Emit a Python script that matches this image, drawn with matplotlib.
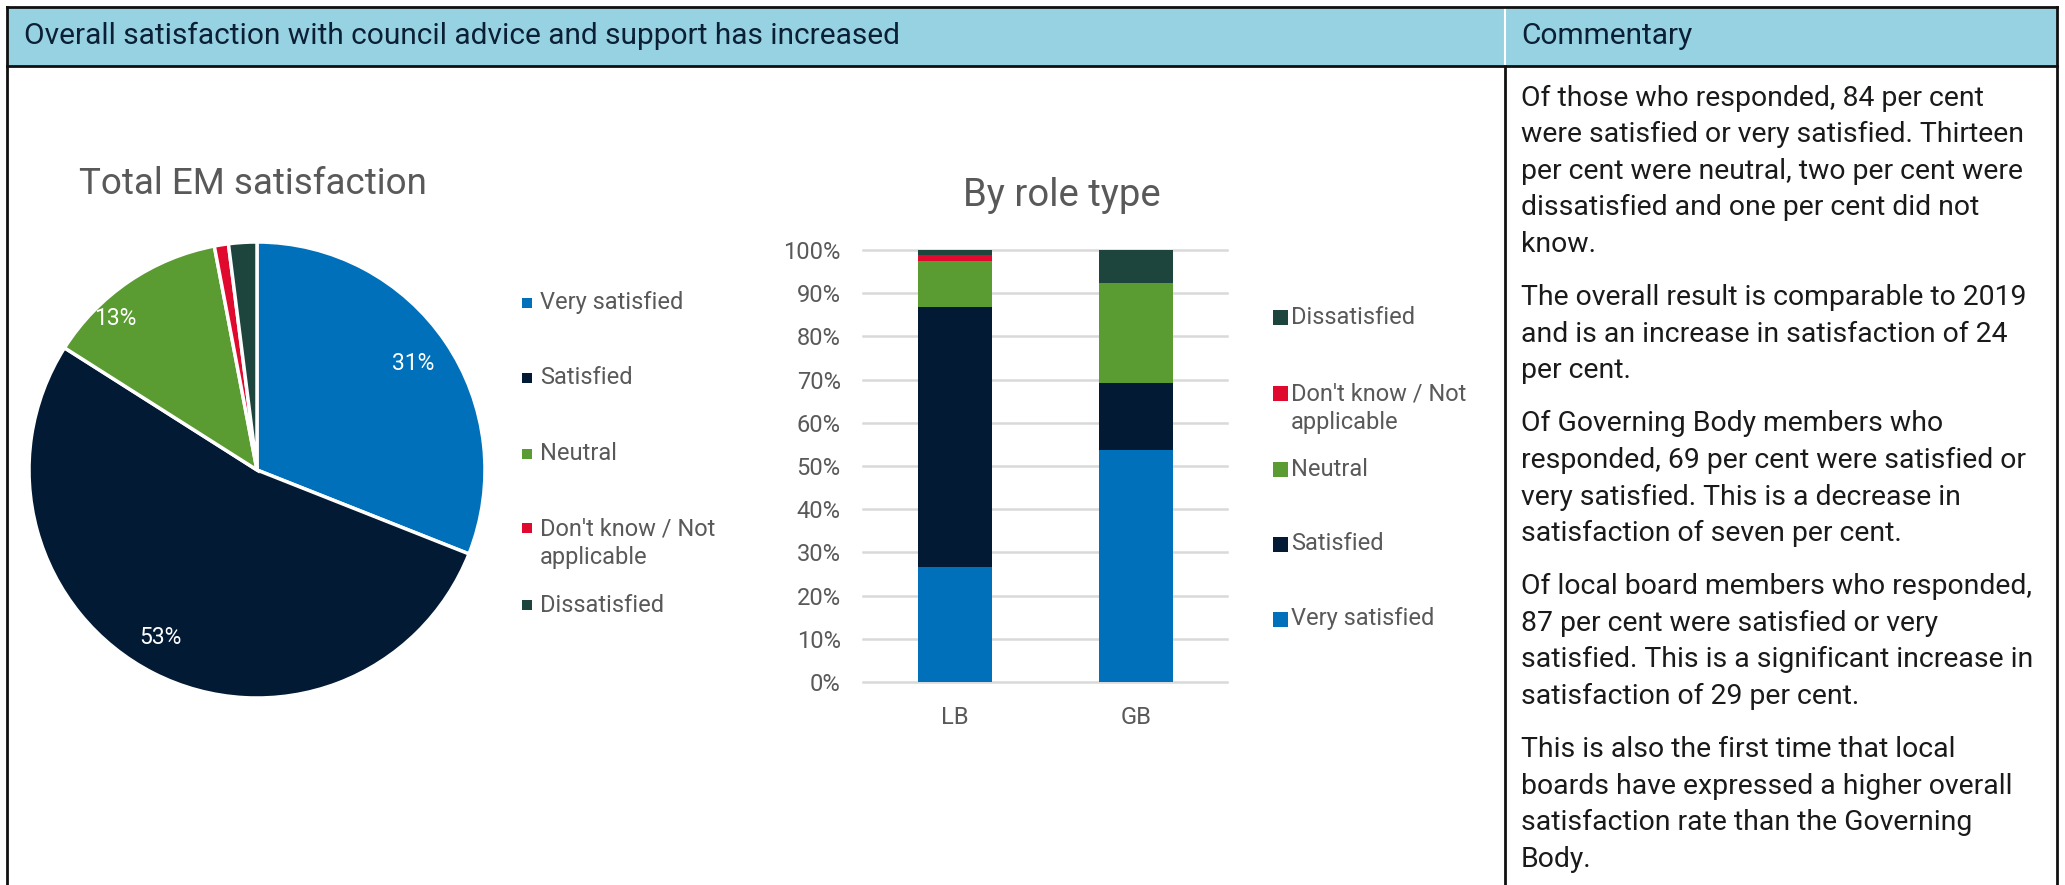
import matplotlib
matplotlib.use('Agg')
import matplotlib.pyplot as plt
from matplotlib.patches import Rectangle
import numpy as np

plt.rcParams['font.family'] = ['Roboto', 'DejaVu Sans']

# --- data -------------------------------------------------------------------
header_title = "Overall satisfaction with council advice and support has increased"
commentary_title = "Commentary"

pie_title = "Total EM satisfaction"
pie_labels = ["Very satisfied", "Satisfied", "Neutral",
              "Don't know / Not\napplicable", "Dissatisfied"]
pie_values = [31, 53, 13, 1, 2]

bar_title = "By role type"
roles = ["LB", "GB"]
stack_labels = ["Very satisfied", "Satisfied", "Neutral",
                "Don't know / Not\napplicable", "Dissatisfied"]
lb_values = [26.7, 60.0, 10.7, 1.4, 1.2]
gb_values = [53.8, 15.4, 23.1, 0.0, 7.7]
y_ticks = [0, 10, 20, 30, 40, 50, 60, 70, 80, 90, 100]

commentary = [
    ["Of those who responded, 84 per cent",
     "were satisfied or very satisfied. Thirteen",
     "per cent were neutral, two per cent were",
     "dissatisfied and one per cent did not",
     "know."],
    ["The overall result is comparable to 2019",
     "and is an increase in satisfaction of 24",
     "per cent."],
    ["Of Governing Body members who",
     "responded, 69 per cent were satisfied or",
     "very satisfied. This is a decrease in",
     "satisfaction of seven per cent."],
    ["Of local board members who responded,",
     "87 per cent were satisfied or very",
     "satisfied. This is a significant increase in",
     "satisfaction of 29 per cent."],
    ["This is also the first time that local",
     "boards have expressed a higher overall",
     "satisfaction rate than the Governing",
     "Body."],
]

# --- style ------------------------------------------------------------------
colors = ["#0070BA", "#021A33", "#5B9C32", "#E00A2E", "#1E453D"]
grey_text = "#595959"
header_blue = "#97D2E3"

W, H = 2065, 885
fig = plt.figure(figsize=(W / 100, H / 100), dpi=100)
fig.patch.set_facecolor("white")


def box(x, y, w, h):
    """pixel box (top-left origin) -> figure fraction rect"""
    return [x / W, 1 - (y + h) / H, w / W, h / H]


# overlay in pixel coords for the table frame and free text
ov = fig.add_axes([0, 0, 1, 1])
ov.set_xlim(0, W)
ov.set_ylim(H, 0)
ov.axis("off")

left, right, top, head_bot, divider = 7, 2057, 7, 66, 1505
ov.add_patch(Rectangle((left, top), right - left, head_bot - top,
                       facecolor=header_blue, edgecolor="none", zorder=1))
ov.plot([divider, divider], [top, head_bot], color="white", lw=1.5, zorder=2)
ov.plot([left, right], [top, top], color="#111111", lw=2, zorder=3)
ov.plot([left, right], [head_bot, head_bot], color="#111111", lw=2, zorder=3)
ov.plot([left, left], [top, H], color="#111111", lw=2, zorder=3)
ov.plot([right, right], [top, H], color="#111111", lw=2, zorder=3)
ov.plot([divider, divider], [head_bot, H], color="#111111", lw=2, zorder=3)

ov.text(24, 36, header_title, fontsize=21.5, color="#0B1F35", va="center")
ov.text(1521, 36, commentary_title, fontsize=21.5, color="#0B1F35", va="center")

# commentary paragraphs
line_step, para_gap = 36.6, 16.5
y = 98
for para in commentary:
    for line in para:
        ov.text(1521, y, line, fontsize=20.4, color="#1A1A1A", va="center")
        y += line_step
    y += para_gap

# --- pie ---------------------------------------------------------------------
ov.text(253, 184, pie_title, fontsize=26.5, color=grey_text, ha="center",
        va="center")

cx, cy, r = 257, 470, 228
ax_pie = fig.add_axes(box(cx - r, cy - r, 2 * r, 2 * r))
wedges, _ = ax_pie.pie(pie_values, colors=colors, startangle=90, counterclock=False,
                       radius=1, wedgeprops=dict(edgecolor="white", linewidth=2.5))
ax_pie.set_xlim(-1, 1)
ax_pie.set_ylim(-1, 1)
ax_pie.axis("off")

label_pos = {0: (0.83, 0), 1: (0.85, -3), 2: (0.91, 9)}
for i, (wdg, val) in enumerate(zip(wedges, pie_values)):
    if i not in label_pos:
        continue
    dist, shift = label_pos[i]
    ang = np.deg2rad((wdg.theta1 + wdg.theta2) / 2 + shift)
    ax_pie.text(dist * np.cos(ang), dist * np.sin(ang), f"{val}%",
                color="white", fontsize=16.5, ha="center", va="center")

# pie legend
pie_leg_y = [303, 378, 454, 543, 605]
for lab, col, ly in zip(pie_labels, colors, pie_leg_y):
    n = lab.count("\n")
    ov.add_patch(Rectangle((522, ly - n * 15 - 5), 10, 10, facecolor=col,
                           edgecolor="none"))
    ov.text(540, ly, lab, fontsize=17, color=grey_text, va="center",
            linespacing=1.3)

# --- stacked bars ----------------------------------------------------------
ov.text(1062, 195, bar_title, fontsize=27.5, color=grey_text, ha="center",
        va="center")

ax_bar = fig.add_axes(box(863, 250, 364, 432))
x = np.arange(len(roles))
bottoms = np.zeros(len(roles))
for i, col in enumerate(colors):
    vals = np.array([lb_values[i], gb_values[i]])
    ax_bar.bar(x, vals, bottom=bottoms, width=0.41, color=col, edgecolor="none",
               zorder=3)
    bottoms += vals

ax_bar.set_xlim(-0.508, 1.503)
ax_bar.set_ylim(0, 100)
ax_bar.set_yticks(y_ticks)
ax_bar.set_yticklabels([f"{t}%" for t in y_ticks])
ax_bar.set_xticks(x)
ax_bar.set_xticklabels(roles)
ax_bar.tick_params(length=0, labelsize=17, labelcolor=grey_text)
ax_bar.tick_params(axis="y", pad=16)
ax_bar.tick_params(axis="x", pad=17)
ax_bar.yaxis.grid(True, color="#D9D9D9", lw=1.8, zorder=0)
for gl in ax_bar.get_ygridlines():
    gl.set_clip_on(False)
for sp in ax_bar.spines.values():
    sp.set_visible(False)

# bar legend, top entry is the top of the stack
bar_leg_y = [619, 544, 469, 408, 317]
for lab, col, ly in zip(stack_labels, colors, bar_leg_y):
    n = lab.count("\n")
    ov.add_patch(Rectangle((1273, ly - n * 15 - 7.5), 15, 15, facecolor=col,
                           edgecolor="none"))
    ov.text(1291, ly, lab, fontsize=17, color=grey_text, va="center",
            linespacing=1.3)

fig.savefig("out.png", dpi=100)
